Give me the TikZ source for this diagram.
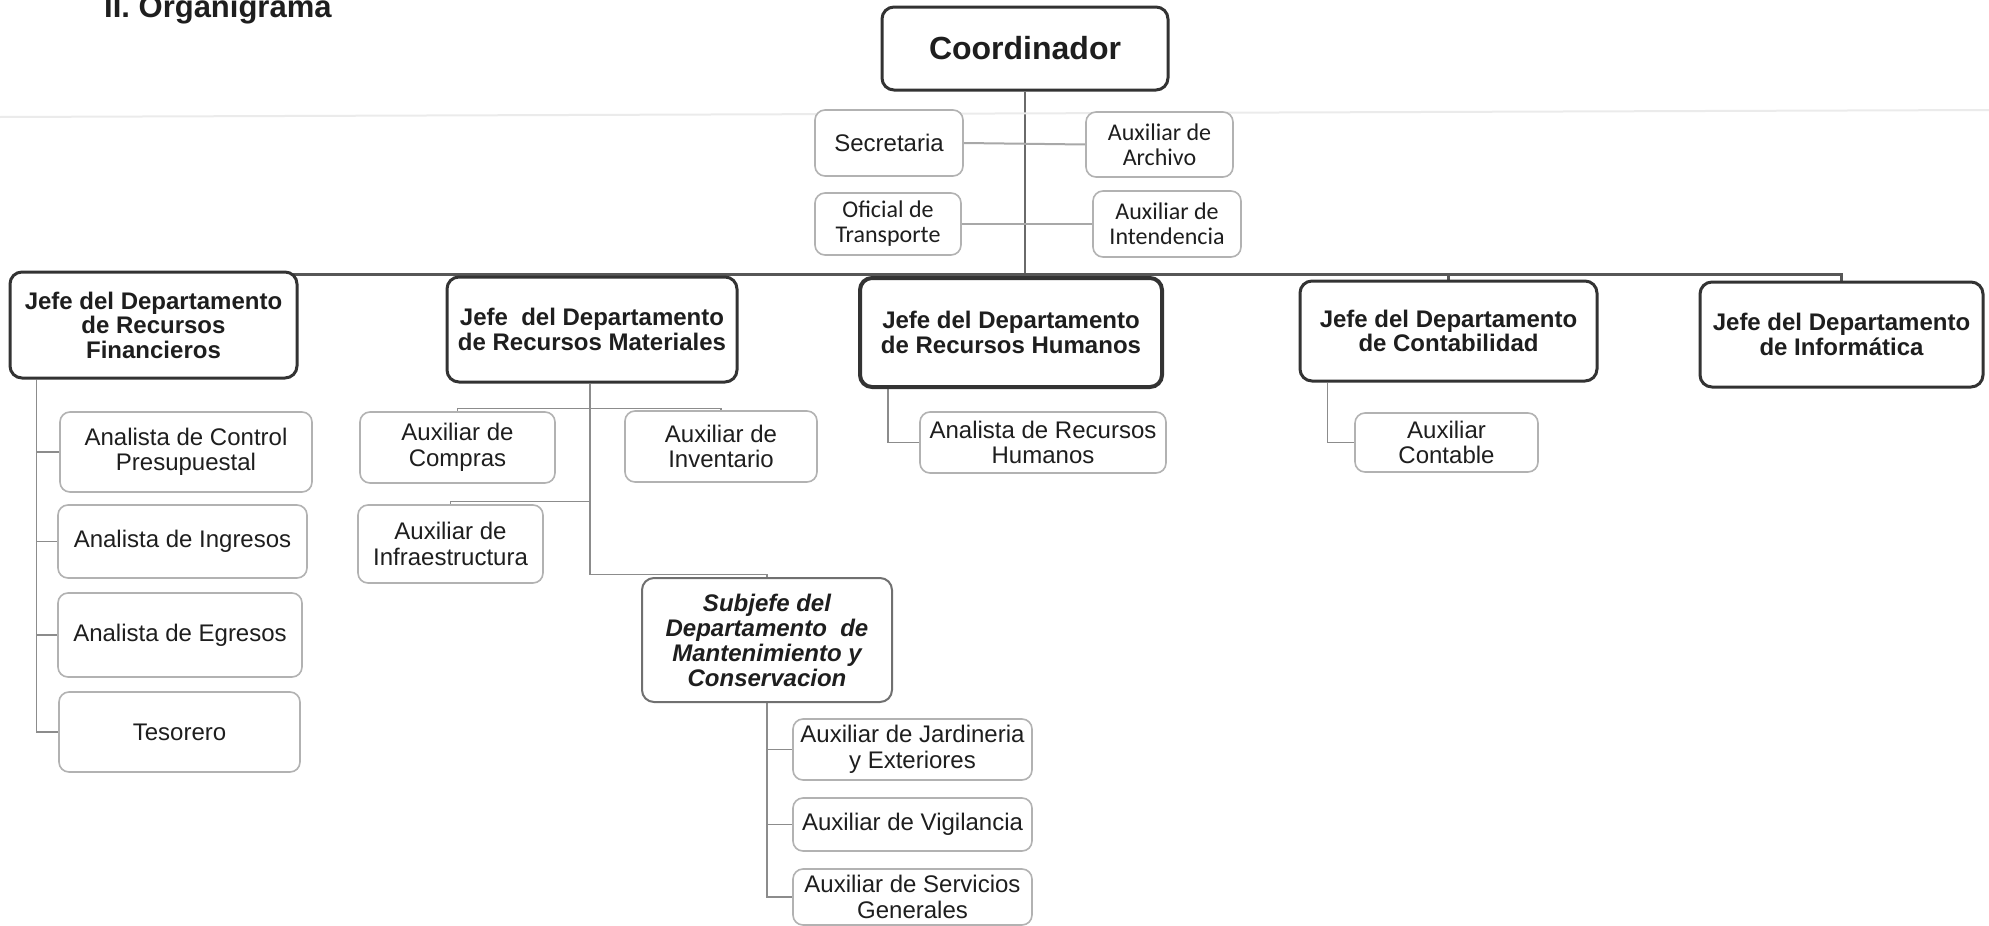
\documentclass[tikz,border=0pt]{standalone}
\usepackage{fontspec}
\setmainfont{Liberation Sans}
\newfontfamily\calibrifont{Carlito}
\usetikzlibrary{calc,backgrounds}
\definecolor{ink}{HTML}{1E1E1E}
\definecolor{headline}{HTML}{333333}
\definecolor{buscol}{HTML}{575757}
\definecolor{trunkcol}{HTML}{6A6A6A}
\definecolor{staffline}{HTML}{B2B2B2}
\definecolor{subline}{HTML}{707070}
\definecolor{wirecol}{HTML}{8C8C8C}
\definecolor{lightwire}{HTML}{A8A8A8}
\begin{document}
\begin{tikzpicture}[x=1pt,y=-1pt,
  box/.style={draw, fill=white, rounded corners=12pt, align=center, inner sep=0pt, text=ink},
  head/.style={box, draw=headline, line width=3pt, font=\fontsize{24}{24.5}\selectfont\bfseries},
  staff/.style={box, draw=staffline, line width=1.6pt, rounded corners=10pt, font=\fontsize{24}{25.5}\selectfont},
  staffc/.style={staff, font=\calibrifont\fontsize{24}{25}\selectfont},
  subhead/.style={box, draw=subline, line width=2pt, font=\fontsize{24}{25}\selectfont\bfseries\itshape},
  wire/.style={draw=wirecol, line width=1.6pt},
  lwire/.style={draw=lightwire, line width=2pt},
  bus/.style={draw=buscol, line width=3pt},
  sz/.style 2 args={minimum width=#1pt, minimum height=#2pt},
]
\useasboundingbox (0,0) rectangle (1989,926);

% faint rule across the sheet
\draw[black!8, line width=2pt] (0,117) -- (1989,110);

% title (its upper part runs off the sheet)
\node[anchor=base west, inner sep=0pt, text=ink, font=\fontsize{31}{31}\selectfont\bfseries] (title) at (104,17) {II. Organigrama};

% top level
\node[head, sz={286}{83}, font=\fontsize{32}{32}\selectfont\bfseries] (coord) at (1025,48.5) {Coordinador};

% staff of the coordinator
\node[staff, sz={148}{66}] (sec) at (889,143) {Secretaria};
\node[staffc, sz={147}{65}] (arch) at (1159.5,144.5) {Auxiliar de\\Archivo};
\node[staffc, sz={146}{62}] (transp) at (888,224) {Oficial de\\Transporte};
\node[staffc, sz={148}{66}] (intend) at (1167,224) {Auxiliar de\\Intendencia};

% department heads
\node[head, sz={287}{106}] (rf) at (153.5,325) {Jefe del Departamento\\de Recursos\\Financieros};
\node[head, sz={290}{105}] (rm) at (592,329.5) {Jefe\ \ del Departamento\\de Recursos Materiales};
\node[head, line width=4pt, sz={302}{109}] (rh) at (1011,332.5) {Jefe del Departamento\\de Recursos Humanos};
\node[head, sz={297}{100}] (cont) at (1448.5,331) {Jefe del Departamento\\de Contabilidad};
\node[head, sz={283}{105}] (info) at (1841.5,334.5) {Jefe del Departamento\\de Informática};

% Recursos Financieros
\node[staff, sz={252}{80}] (acp) at (186,452) {Analista de Control\\Presupuestal};
\node[staff, sz={249}{73}] (ing) at (182.5,541.5) {Analista de Ingresos};
\node[staff, sz={244}{84}] (egr) at (180,635) {Analista de Egresos};
\node[staff, sz={241}{80}] (tes) at (179.5,732) {Tesorero};

% Recursos Materiales
\node[staff, sz={195}{71}] (compras) at (457.5,447.5) {Auxiliar de\\Compras};
\node[staff, sz={192}{71}] (invent) at (721,446.5) {Auxiliar de\\Inventario};
\node[staff, sz={185}{78}] (infra) at (450.5,544) {Auxiliar de\\Infraestructura};
\node[subhead, sz={250}{124}] (subj) at (767,640) {Subjefe del\\Departamento\ \ de\\Mantenimiento y\\Conservacion};

% Mantenimiento y Conservacion
\node[staff, sz={239}{61}] (jard) at (912.5,749.5) {Auxiliar de Jardineria\\y Exteriores};
\node[staff, sz={239}{53}] (vig) at (912.5,824.5) {Auxiliar de Vigilancia};
\node[staff, sz={239}{56}] (serv) at (912.5,897) {Auxiliar de Servicios\\Generales};

% Recursos Humanos and Contabilidad
\node[staff, sz={246}{61}] (arh) at (1043,442.5) {Analista de Recursos\\Humanos};
\node[staff, sz={183}{59}] (auxc) at (1446.5,442.5) {Auxiliar\\Contable};

% connectors
\begin{scope}[on background layer]
  \path (coord.south) ++(0,183) coordinate (bus);
  \draw[draw=trunkcol, line width=2.5pt] (coord.south) -- (bus);
  \draw[lwire] (sec.east) -- (arch.west);
  \draw[lwire] (transp.east) -- (intend.west);

  \draw[bus] (rf.north) |- (bus) -| (info.north);
  \draw[bus] (bus) -| (rm.north);
  \draw[bus] (bus) -| (rh.north);
  \draw[bus] (bus) -| (cont.north);

  \coordinate (rfT) at ($(rf.south west)+(28,0)$);
  \draw[wire] (rfT) |- (acp.west);
  \draw[wire] (rfT) |- (ing.west);
  \draw[wire] (rfT) |- (egr.west);
  \draw[wire] (rfT) |- (tes.west);

  \coordinate (rmT) at ($(rm.south)+(-2,0)$);
  \coordinate (rmA) at ($(rmT)+(0,25)$);
  \coordinate (rmB) at ($(rmT)+(0,118)$);
  \coordinate (rmC) at ($(rmT)+(0,191)$);
  \draw[wire] (rmT) -- (rmC);
  \draw[wire] (rmA) -| (compras.north);
  \draw[wire] (rmA) -| (invent.north);
  \draw[wire] (rmB) -| (infra.north);
  \draw[wire] (rmC) -| (subj.north);

  \draw[wire] (subj.south) |- (jard.west);
  \draw[wire] (subj.south) |- (vig.west);
  \draw[wire] (subj.south) |- (serv.west);

  \coordinate (rhT) at ($(rh.south west)+(30,0)$);
  \draw[wire] (rhT) |- (arh.west);
  \coordinate (contT) at ($(cont.south west)+(29,0)$);
  \draw[wire] (contT) |- (auxc.west);
\end{scope}
\end{tikzpicture}
\end{document}
